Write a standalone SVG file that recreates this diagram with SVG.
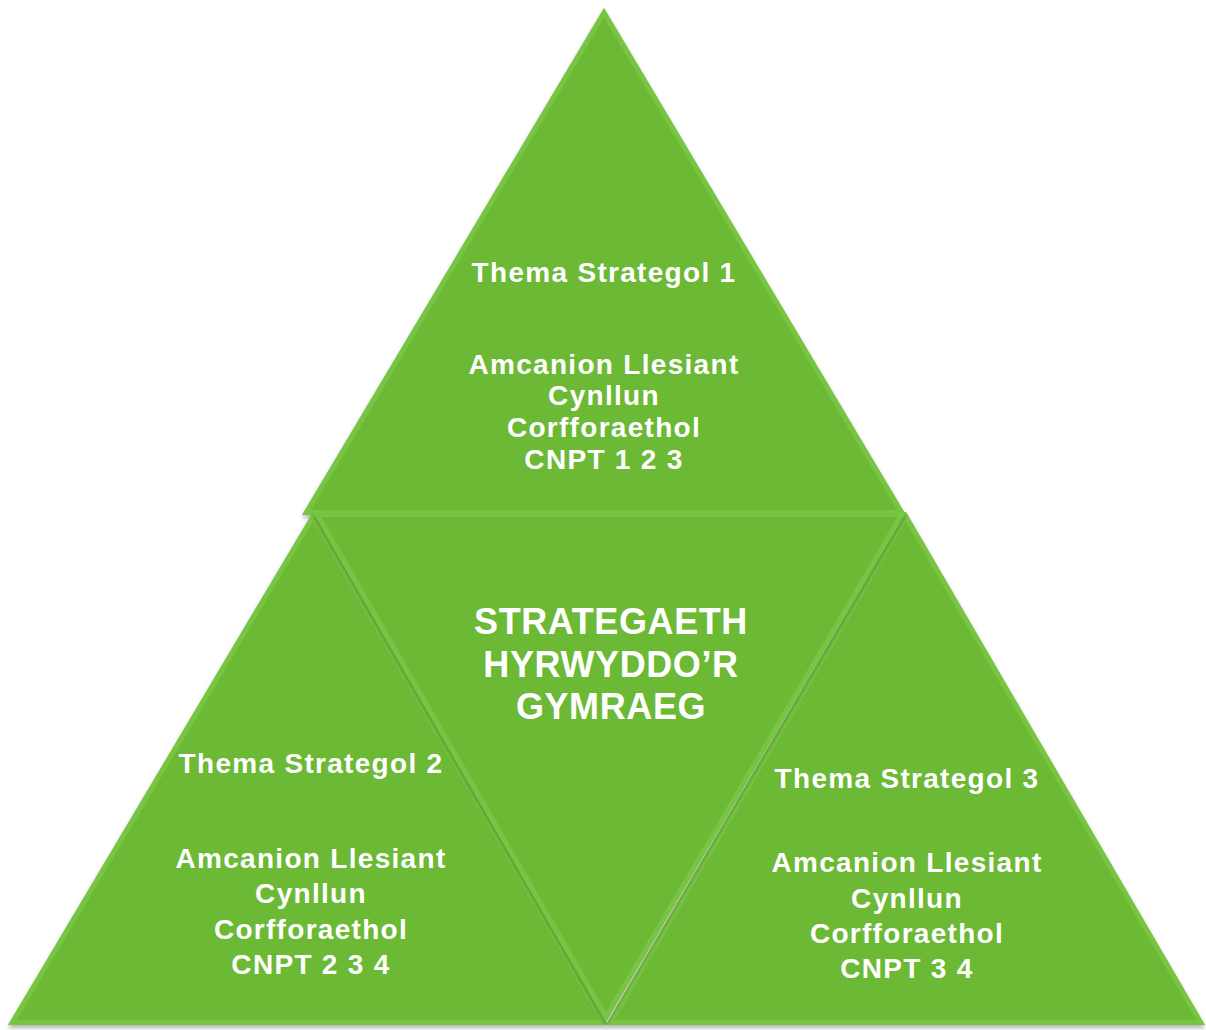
<svg xmlns="http://www.w3.org/2000/svg" width="1206" height="1030" viewBox="0 0 1206 1030">
<defs>
<style>
.tri{fill:#6cb936;}
.bev{fill:none;stroke:#7ecb4a;stroke-width:10;stroke-linejoin:miter;opacity:0.7}
.t{font-family:"Liberation Sans",Arial,sans-serif;font-weight:bold;fill:#ffffff;text-anchor:middle;}
.s{font-size:28px;letter-spacing:1.3px;}
.b{font-size:36px;letter-spacing:0.6px;}
</style>
<filter id="sh" x="-5%" y="-5%" width="110%" height="110%">
<feDropShadow dx="0" dy="3" stdDeviation="2" flood-color="#000" flood-opacity="0.3"/>
</filter>
<clipPath id="c1"><polygon points="604,8 302,515 906,515"/></clipPath>
<clipPath id="c2"><polygon points="313,512 8,1025 608,1025"/></clipPath>
<clipPath id="c3"><polygon points="313,512 906,512 606,1022"/></clipPath>
<clipPath id="c4"><polygon points="906,512 606,1025 1205,1025"/></clipPath>
</defs>
<g id="top">
<polygon class="tri" points="604,8 302,515 906,515" filter="url(#sh)"/>
<polygon class="bev" points="604,8 302,515 906,515" clip-path="url(#c1)"/>
<text class="t s"><tspan x="604" y="282">Thema Strategol 1</tspan><tspan x="604" y="374">Amcanion Llesiant</tspan><tspan x="604" y="405">Cynllun</tspan><tspan x="604" y="437">Corfforaethol</tspan><tspan x="604" y="469">CNPT 1 2 3</tspan></text>
</g>
<g id="left">
<polygon class="tri" points="313,512 8,1025 608,1025" filter="url(#sh)"/>
<polygon class="bev" points="313,512 8,1025 608,1025" clip-path="url(#c2)"/>
<text class="t s"><tspan x="311" y="773">Thema Strategol 2</tspan><tspan x="311" y="868">Amcanion Llesiant</tspan><tspan x="311" y="903">Cynllun</tspan><tspan x="311" y="939">Corfforaethol</tspan><tspan x="311" y="974">CNPT 2 3 4</tspan></text>
</g>
<g id="right">
<polygon class="tri" points="906,512 606,1025 1205,1025" filter="url(#sh)"/>
<polygon class="bev" points="906,512 606,1025 1205,1025" clip-path="url(#c4)"/>
<text class="t s"><tspan x="907" y="788">Thema Strategol 3</tspan><tspan x="907" y="872">Amcanion Llesiant</tspan><tspan x="907" y="908">Cynllun</tspan><tspan x="907" y="943">Corfforaethol</tspan><tspan x="907" y="978">CNPT 3 4</tspan></text>
</g>
<g id="center">
<polygon class="tri" points="313,512 906,512 606,1022" filter="url(#sh)"/>
<polygon class="bev" points="313,512 906,512 606,1022" clip-path="url(#c3)"/>
<text class="t b"><tspan x="611" y="634">STRATEGAETH</tspan><tspan x="611" y="677">HYRWYDDO’R</tspan><tspan x="611" y="719">GYMRAEG</tspan></text>
</g>
<g id="connectors"></g>
</svg>
